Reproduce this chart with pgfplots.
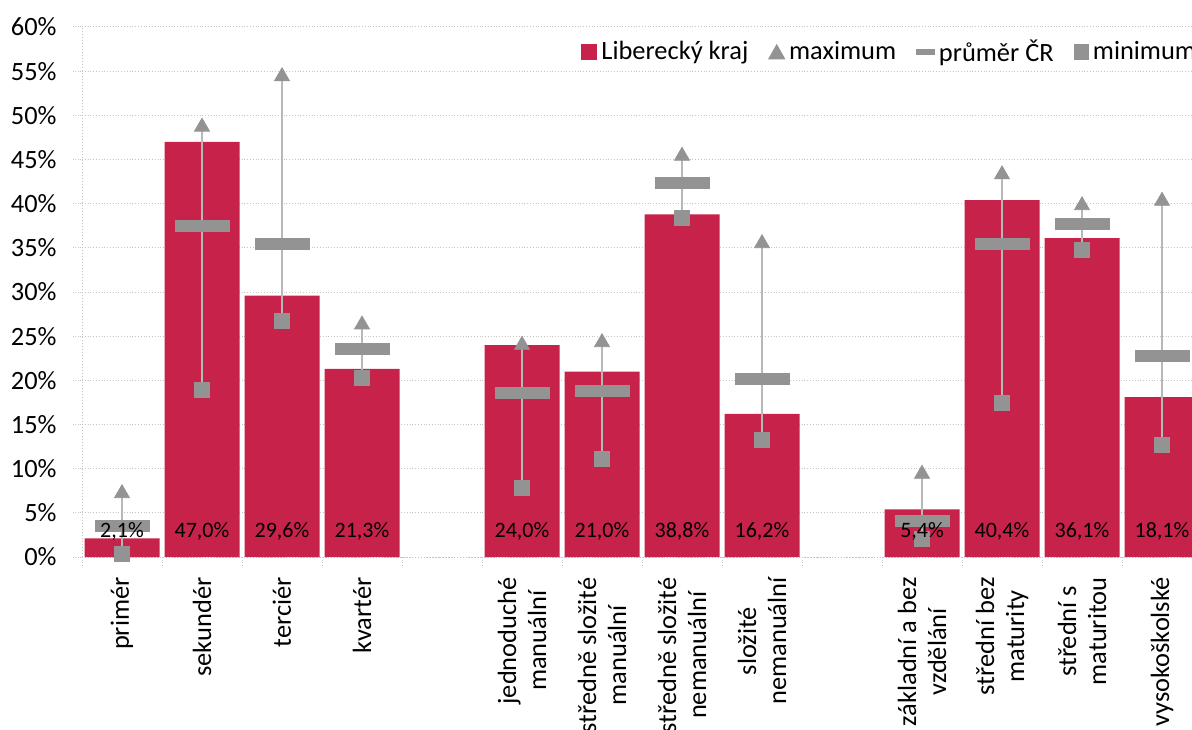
\documentclass[border=0pt]{standalone}
\usepackage{fontspec}
\setmainfont{Carlito}
\usepackage{pgfplots}
\pgfplotsset{compat=1.18}
\usepackage{pgfplotstable}
\definecolor{barcol}{RGB}{198,34,74}
\definecolor{markgray}{RGB}{147,147,147}
\definecolor{whisk}{RGB}{184,184,184}
\definecolor{gridc}{RGB}{196,196,196}

% x: slot (4 and 9 are empty gaps), values in %
\pgfplotstableread{
x  bar  max  mean  min
0  2.1  7.2  3.5  0.3
1  47.0 48.7 37.5 18.9
2  29.6 54.4 35.4 26.7
3  21.3 26.3 23.5 20.3
5  24.0 24.0 18.6 7.8
6  21.0 24.3 18.8 11.1
7  38.8 45.4 42.3 38.4
8  16.2 35.5 20.2 13.3
10 5.4  9.4  4.1  2.1
11 40.4 43.3 35.4 17.5
12 36.1 39.8 37.7 34.8
13 18.1 40.3 22.8 12.7
}\data

\newcommand{\lbl}{\fontsize{13.2}{15}\selectfont}

\begin{document}
\begin{tikzpicture}
\useasboundingbox (0,0) rectangle (596pt,364.5pt);
\clip (0,0) rectangle (596pt,364.5pt);
\begin{axis}[
    at={(41pt,86pt)}, anchor=south west,
    scale only axis, width=560pt, height=265pt,
    xmin=-0.5, xmax=13.5, ymin=0, ymax=60,
    axis lines*=left,
    axis line style={gridc, densely dotted, line width=0.5pt},
    ytick={0,5,...,60},
    yticklabel={\pgfmathprintnumber{\tick}\%},
    /pgf/number format/assume math mode=true,
    ymajorgrids, grid style={gridc, densely dotted, line width=0.5pt},
    tick align=outside, major tick length=4.5pt, minor tick length=4pt,
    ytick style={gridc, densely dotted, line width=0.5pt},
    xtick={0,1,2,3,5,6,7,8,10,11,12,13},
    major x tick style={draw=none},
    minor xtick={-0.5,0.5,...,13.5},
    minor x tick style={gridc, densely dotted, line width=0.5pt},
    xticklabels={primér, sekundér, terciér, kvartér,
      {jednoduché\\manuální}, {středně složité\\manuální},
      {středně složité\\nemanuální}, {složité\\nemanuální},
      {základní a bez\\vzdělání}, {střední bez\\maturity},
      {střední s\\maturitou}, vysokoškolské},
    tick label style={font=\lbl, text=black},
    yticklabel style={inner sep=0pt, xshift=-8pt},
    xticklabel style={rotate=90, anchor=east, align=center, inner sep=0pt},
    xticklabel shift=5.5pt,
    legend columns=4,
    legend style={at={(0.4438,0.953)}, anchor=west, draw=none, fill=white,
      font=\lbl, inner sep=1pt,
      /tikz/every even column/.append style={column sep=8pt}},
]
\addplot[ybar, bar width=37.5pt, fill=barcol, draw=none,
  legend image code/.code={\fill[barcol] (0pt,-3.8pt) rectangle (8pt,3.8pt);}]
  table[x=x, y=bar] {\data};
\addlegendentry{Liberecký kraj}
\addplot[only marks, mark=none, forget plot,
  error bars/.cd, y dir=both, y explicit,
  error bar style={whisk, line width=0.7pt}, error mark=none]
  table[x=x, y=mean, y error plus expr=\thisrow{max}-\thisrow{mean},
        y error minus expr=\thisrow{mean}-\thisrow{min}] {\data};
\addplot[only marks, mark=triangle*, mark size=4.3pt, color=markgray,
  legend image code/.code={\fill[markgray] (0pt,-3.5pt) -- (8pt,-3.5pt) -- (4pt,3.6pt) -- cycle;}]
  table[x=x, y=max] {\data};
\addlegendentry{maximum}
\addplot[only marks, mark=-, mark size=13.75pt, color=markgray,
  mark options={line width=6pt},
  legend image code/.code={\fill[markgray] (0pt,-1.4pt) rectangle (9pt,1.4pt);}]
  table[x=x, y=mean] {\data};
\addlegendentry{průměr ČR}
\addplot[only marks, mark=square*, mark size=3.75pt, color=markgray,
  legend image code/.code={\fill[markgray] (0pt,-3.6pt) rectangle (7.2pt,3.6pt);}]
  table[x=x, y=min] {\data};
\addlegendentry{minimum}
\addplot[only marks, mark=none, forget plot, point meta=explicit,
  nodes near coords={\pgfmathprintnumber[fixed,fixed zerofill,precision=1,use comma]{\pgfplotspointmeta}\%},
  every node near coord/.append style={anchor=center, yshift=13pt,
    font=\fontsize{11}{13}\selectfont, text=black}]
  table[x=x, y expr=0, meta=bar] {\data};
\end{axis}
\end{tikzpicture}
\end{document}
